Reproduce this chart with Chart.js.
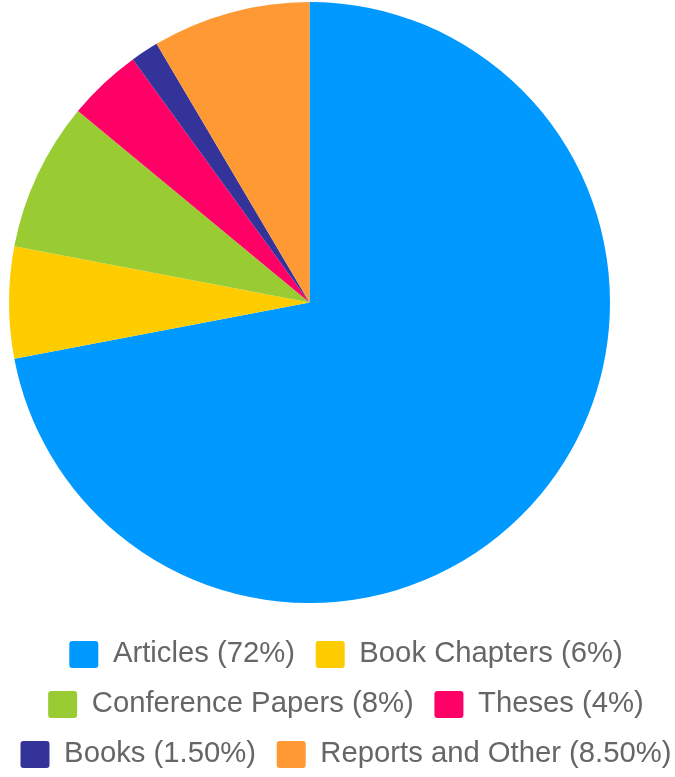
<!DOCTYPE html>
<html lang="en">
<head>
  <meta charset="UTF-8" />
  <title>Publication types</title>
  <script src="https://cdn.jsdelivr.net/npm/chart.js"></script>
  <style>
    body {
      margin: 0;
      padding: 0;
      background-color: #ffffff;
    }
    .chart-container {
      width: 675px;
      height: 777px;
      position: relative;
    }
  </style>
</head>
<body>
  <div class="chart-container">
    <canvas id="typesChart"></canvas>
  </div>

  <script>
    const categories = ['Articles (72%)', 'Book Chapters (6%)', 'Conference Papers (8%)', 'Theses (4%)', 'Books (1.50%)', 'Reports and Other (8.50%)'];
    const shares = [72, 6, 8, 4, 1.5, 8.5];
    const colors = ['#0099ff', '#ffcc00', '#99cc33', '#ff0066', '#333399', '#ff9933'];

    const ctx = document.getElementById('typesChart').getContext('2d');

    const chart = new Chart(ctx, {
      type: 'pie',
      data: {
        labels: categories,
        datasets: [{
          data: shares,
          backgroundColor: colors,
          borderWidth: 0
        }]
      },
      options: {
        responsive: true,
        maintainAspectRatio: false,
        animation: false,
        layout: {
          // legend is a bit right of the pie in the original, and wide
          padding: { top: 0, right: -37, left: -20, bottom: -2 }
        },
        plugins: {
          // empty side titles only used as spacers around the pie
          title: {
            display: true,
            text: '',
            position: 'left',
            padding: 0,
            font: { size: 10, lineHeight: 2.9 }
          },
          subtitle: {
            display: true,
            text: '',
            position: 'right',
            padding: 0,
            font: { size: 10, lineHeight: 10.2 }
          },
          legend: {
            display: true,
            position: 'bottom',
            title: {
              display: true,
              text: '',
              padding: 0,
              font: { size: 10, lineHeight: 1.4 }
            },
            labels: {
              boxWidth: 29,
              boxHeight: 27,
              padding: 20.75,
              color: '#666666',
              useBorderRadius: true,
              borderRadius: 3,
              font: {
                family: "Arial, 'Liberation Sans', sans-serif",
                size: 29.25
              }
            }
          },
          tooltip: {
            callbacks: {
              label: function(tooltipItem) {
                return `${tooltipItem.raw}%`;
              }
            }
          }
        }
      }
    });
  </script>
</body>
</html>
